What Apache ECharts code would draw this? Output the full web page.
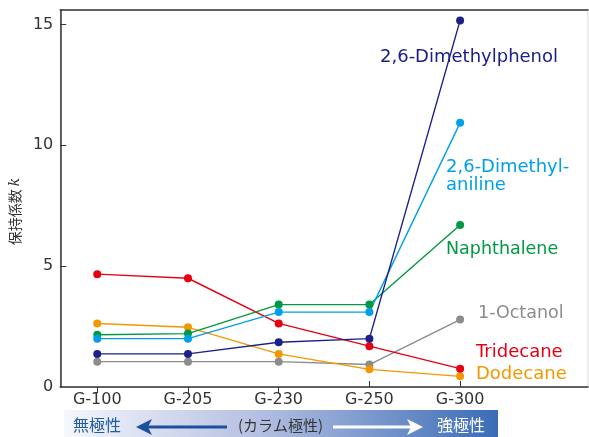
<!DOCTYPE html>
<html>
<head>
<meta charset="utf-8">
<script src="https://cdn.jsdelivr.net/npm/echarts@6/dist/echarts.min.js"></script>
<style>
  html, body { margin: 0; padding: 0; background: #fff; }
  #main { width: 589px; height: 437px; }
</style>
</head>
<body>
<div id="main"></div>
<script>
// カラム名
var columns = ['G-100', 'G-205', 'G-230', 'G-250', 'G-300'];
var yTicks = [0, 5, 10, 15];

// 保持係数 k
var dimethylphenol = [1.37, 1.37, 1.85, 2.0, 15.17];
var dimethylaniline = [2.0, 2.0, 3.1, 3.1, 10.93];
var naphthalene = [2.16, 2.21, 3.41, 3.41, 6.7];
var octanol = [1.05, 1.05, 1.05, 0.93, 2.79];
var tridecane = [4.67, 4.5, 2.63, 1.69, 0.76];
var dodecane = [2.63, 2.47, 1.37, 0.73, 0.44];

var FONT = 'DejaVu Sans, Verdana, sans-serif';
var JP = 'Noto Sans CJK JP, sans-serif';

function toPoints(arr) {
  return arr.map(function (v, i) { return [i, v]; });
}

function line(name, data, color) {
  return {
    name: name,
    type: 'line',
    xAxisIndex: 0,
    data: toPoints(data),
    symbol: 'circle',
    symbolSize: 8,
    lineStyle: { width: 1.4, color: color },
    itemStyle: { color: color },
    animation: false
  };
}

var chart = echarts.init(document.getElementById('main'));

chart.setOption({
  animation: false,
  grid: {
    left: 60, right: 1, top: 10, bottom: 50,
    show: true, borderColor: '#d8d8d8', borderWidth: 1
  },
  xAxis: [
    {
      type: 'value', min: -0.408, max: 5.41, position: 'bottom',
      splitLine: { show: false },
      axisLine: { onZero: false, lineStyle: { color: '#333', width: 1.5 } },
      axisTick: { customValues: [0, 1, 2], length: 6, lineStyle: { color: '#333' } },
      axisLabel: {
        customValues: [0, 1, 2, 3, 4], margin: 5,
        color: '#333', fontSize: 16, fontFamily: FONT,
        formatter: function (v) { return columns[Math.round(v)]; }
      }
    },
    {
      // G-250, G-300 の目盛りは内向き
      type: 'value', min: -0.408, max: 5.41, position: 'bottom',
      splitLine: { show: false },
      axisLine: { show: false, onZero: false },
      axisTick: { inside: true, customValues: [3, 4], length: 6, lineStyle: { color: '#333' } },
      axisLabel: { show: false }
    },
    {
      type: 'value', min: -0.408, max: 5.41, position: 'top',
      splitLine: { show: false },
      axisLine: { onZero: false, lineStyle: { color: '#333', width: 1.5 } },
      axisTick: { show: false },
      axisLabel: { show: false }
    }
  ],
  yAxis: {
    type: 'value', min: 0, max: 15.6, position: 'left',
    splitLine: { show: false },
    axisLine: { show: true, onZero: false, lineStyle: { color: '#333', width: 1.5 } },
    axisTick: { show: true, inside: true, customValues: [5, 10, 15], length: 6, lineStyle: { color: '#333' } },
    axisLabel: { customValues: yTicks, color: '#333', fontSize: 16, fontFamily: FONT, margin: 7 },
    name: '{a|保持係数 }{k|k}',
    nameLocation: 'middle',
    nameRotate: 90,
    nameGap: 35,
    nameTextStyle: {
      padding: [0, 26, 0, 0],
      rich: {
        a: { fontSize: 14, fontFamily: JP, color: '#333' },
        k: { fontSize: 14, fontFamily: 'DejaVu Serif, serif', fontStyle: 'italic', color: '#333' }
      }
    }
  },
  series: [
    line('1-Octanol', octanol, '#8c8c8c'),
    line('Dodecane', dodecane, '#f39800'),
    line('Tridecane', tridecane, '#e60012'),
    line('Naphthalene', naphthalene, '#009944'),
    line('2,6-Dimethylaniline', dimethylaniline, '#00a0e9'),
    line('2,6-Dimethylphenol', dimethylphenol, '#1d2088')
  ],
  graphic: [
    // 系列ラベル
    { type: 'text', left: 380, top: 48, style: { text: '2,6-Dimethylphenol', fill: '#1d2088', font: '18px ' + FONT } },
    { type: 'text', left: 446, top: 158, style: { text: '2,6-Dimethyl-\naniline', fill: '#00a0e9', font: '18px ' + FONT, lineHeight: 18 } },
    { type: 'text', left: 446, top: 240, style: { text: 'Naphthalene', fill: '#009944', font: '17.5px ' + FONT } },
    { type: 'text', left: 478, top: 304, style: { text: '1-Octanol', fill: '#8c8c8c', font: '17.5px ' + FONT } },
    { type: 'text', left: 476, top: 343, style: { text: 'Tridecane', fill: '#e60012', font: '18px ' + FONT } },
    { type: 'text', left: 476, top: 365, style: { text: 'Dodecane', fill: '#f39800', font: '18px ' + FONT } },

    // カラム極性の帯
    {
      type: 'rect', left: 64, top: 410, z: 1,
      shape: { width: 434, height: 27 },
      style: {
        fill: new echarts.graphic.LinearGradient(0, 0, 1, 0, [
          { offset: 0, color: '#f6f7fc' },
          { offset: 0.45, color: '#b4bfe1' },
          { offset: 1, color: '#3a6cb6' }
        ])
      }
    },
    { type: 'text', left: 73, top: 417, z: 2, style: { text: '無極性', fill: '#1d5aa8', font: '16px ' + JP } },
    { type: 'line', z: 2, shape: { x1: 146, y1: 427, x2: 227, y2: 427 }, style: { stroke: '#1c4f9c', lineWidth: 3 } },
    { type: 'polygon', z: 2, shape: { points: [[136, 427], [152, 419], [148, 427], [152, 435]] }, style: { fill: '#1c4f9c' } },
    { type: 'text', left: 238, top: 418, z: 2, style: { text: '(カラム極性)', fill: '#333', font: '15px ' + JP } },
    { type: 'line', z: 2, shape: { x1: 333, y1: 427, x2: 413, y2: 427 }, style: { stroke: '#fff', lineWidth: 3 } },
    { type: 'polygon', z: 2, shape: { points: [[423, 427], [407, 419], [411, 427], [407, 435]] }, style: { fill: '#fff' } },
    { type: 'text', left: 437, top: 417, z: 2, style: { text: '強極性', fill: '#fff', font: '16px ' + JP } }
  ]
});
</script>
</body>
</html>
